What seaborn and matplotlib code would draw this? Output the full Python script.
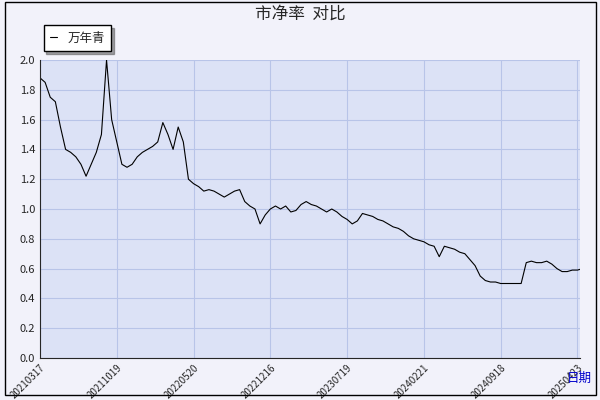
import matplotlib
matplotlib.use("Agg")
import matplotlib.pyplot as plt
import seaborn as sns
import pandas as pd
from matplotlib.patches import Rectangle

sns.set_style("white")
plt.rcParams['font.family'] = ['Noto Sans CJK SC', 'DejaVu Sans']

tick_labels = ["20210317","20211019","20220520","20221216","20230719","20240221","20240918","20250423"]
pb = [1.88,1.85,1.75,1.72,1.55,1.40,1.38,1.35,1.30,1.22,1.30,1.38,1.50,2.00,1.60,1.45,1.30,1.28,
      1.30,1.35,1.38,1.40,1.42,1.45,1.58,1.50,1.40,1.55,1.45,1.20,1.17,1.15,1.12,1.13,1.12,1.10,1.08,1.10,
      1.12,1.13,1.05,1.02,1.00,0.90,0.96,1.00,1.02,1.00,1.02,0.98,0.99,1.03,1.05,1.03,1.02,1.00,0.98,1.00,
      0.98,0.95,0.93,0.90,0.92,0.97,0.96,0.95,0.93,0.92,0.90,0.88,0.87,0.85,0.82,0.80,0.79,0.78,0.76,0.75,
      0.68,0.75,0.74,0.73,0.71,0.70,0.66,0.62,0.55,0.52,0.51,0.51,0.50,0.50,0.50,0.50,0.50,0.64,0.65,0.64,
      0.64,0.65,0.63,0.60,0.58,0.58,0.59,0.59,0.60,0.58,0.62]
df = pd.DataFrame({"x": range(len(pb)), "pb": pb})

fig = plt.figure(figsize=(6, 4), dpi=100, facecolor="#f2f2fa")
ax = fig.add_axes([40/600, 42/400, 540/600, 298/400])
ax.set_facecolor("#dce2f6")
sns.lineplot(data=df, x="x", y="pb", ax=ax, color="black", linewidth=0.8, label="万年青")
step = 105/7
ax.set_xticks([i*step for i in range(8)])
ax.set_xticklabels(tick_labels, rotation=45, ha="right", fontsize=7, rotation_mode="anchor")
ax.set_xlim(0, 105.5)
ax.set_ylim(0, 2.0)
ax.set_yticks([i*0.2 for i in range(11)])
ax.set_yticklabels([f"{i*0.2:.1f}" for i in range(11)], fontsize=8)
ax.set_yticks([i*0.1 for i in range(21)], minor=True)
ax.tick_params(axis="y", which="minor", length=3, direction="in")
ax.tick_params(axis="both", which="major", length=4, direction="in")
ax.grid(True, color="#b8c4e8", linewidth=0.8)
ax.set_xlabel(""); ax.set_ylabel("")
for s in ["top", "right"]:
    ax.spines[s].set_visible(False)
ax.legend(loc="lower left", bbox_to_anchor=(-0.005, 1.01), frameon=True, fancybox=False,
          shadow=True, edgecolor="black", fontsize=9, handlelength=0.6, borderpad=0.5)
fig.suptitle("市净率  对比", y=0.985, fontsize=12)
fig.text(0.965, 0.045, "日期", color="#0000cc", fontsize=9, ha="center")
fig.patches.append(Rectangle((0.008, 0.012), 0.985, 0.982, transform=fig.transFigure,
                             fill=False, edgecolor="black", linewidth=1))
fig.savefig("out.png", dpi=100, facecolor=fig.get_facecolor())
